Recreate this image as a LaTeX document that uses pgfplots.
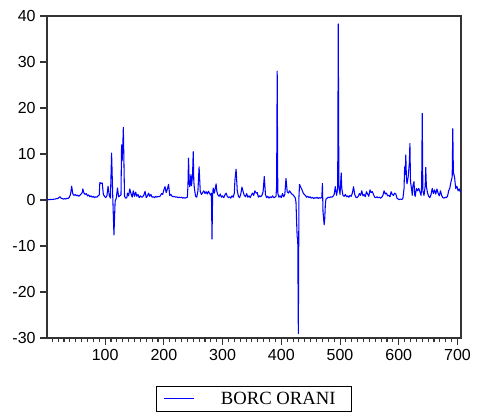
\documentclass[border=0pt]{standalone}
\usepackage{fontspec}
\setmainfont{Liberation Sans}
\newfontfamily\timesf{Liberation Serif}
\usepackage{pgfplots}
\pgfplotsset{compat=1.18}

\begin{document}
\begin{tikzpicture}
\begin{axis}[
  name=ax,
  scale only axis,
  width=310.5pt,
  height=241.5pt,
  xmin=1, xmax=706,
  ymin=-30, ymax=40,
  xtick={100,200,...,700},
  minor xtick={10,20,...,700},
  ytick={-30,-20,...,40},
  tick pos=left,
  tick align=outside,
  major tick length=5pt,
  minor tick length=2.8pt,
  every tick/.style={black!80, line width=0.8pt},
  axis line style={black!80, line width=1pt},
  tick label style={font=\fontsize{12}{14}\selectfont},
  /pgf/number format/assume math mode=true,
  legend style={at={(0.5,-0.189)}, anchor=center, draw=black, line width=0.6pt,
                font=\timesf\fontsize{14}{16}\selectfont, inner xsep=5pt, inner ysep=2pt},
  legend image code/.code={\draw[#1, line width=0.6pt] (0cm,0cm) -- (0.8cm,0cm);},
]
\addplot[blue, line width=0.8pt, line join=round] coordinates {
(1,0.0)(3,0.05)(5,0.1)(7,0.1)(9,0.15)(11,0.1)(13,0.2)(15,0.2)(17,0.3)(19,0.3)(21,0.5)(23,0.7)(25,0.4)(27,0.3)(29,0.2)(31,0.3)(33,0.2)(35,0.4)(37,0.3)(39,0.6)(41,1.2)(43,3.0)(45,1.3)(47,1.0)(49,1.2)(51,0.9)(53,1.1)(55,0.8)(57,1.0)(59,1.3)(61,1.6)(62,2.4)(64,1.5)(66,1.2)(68,1.4)(70,0.9)(72,1.1)(74,0.7)(76,0.9)(78,0.6)(80,0.8)(82,0.5)(84,0.7)(86,0.6)(88,0.9)(90,1.1)(91,3.8)(93,3.6)(95,3.7)(97,1.2)(99,0.8)(101,0.5)(103,0.9)(105,3.0)(107,1.0)(109,0.4)(111,10.2)(113,0.6)(115,-7.6)(117,-0.3)(119,0.4)(121,2.6)(123,0.7)(125,0.9)(127,1.1)(128,12.0)(129,8.5)(130,11.5)(131,15.8)
(133,0.8)(135,0.4)(137,0.5)(138,1.5)(140,0.9)(142,2.4)(144,1.4)(146,0.6)(148,2.0)(150,0.8)(152,1.7)(154,0.8)(156,1.2)(158,0.5)(160,0.9)(162,0.6)(164,0.7)(166,1.1)(168,1.9)(170,0.5)(172,0.9)(174,1.5)(176,0.8)(178,1.2)(180,0.6)(182,0.7)(184,0.5)(186,0.8)(188,0.6)(190,0.8)(192,0.7)(194,0.9)(196,1.4)(198,1.2)(200,2.2)(202,2.9)(204,1.6)(206,2.4)(208,3.4)(210,1.0)(212,1.2)(214,0.8)(216,0.7)(218,0.8)(220,0.6)(222,0.7)(224,0.5)(226,0.6)(228,0.5)(230,0.6)(232,0.4)(234,0.5)(236,0.4)(238,0.5)(240,0.6)
(241,3.0)(242,9.1)(243,4.5)(244,2.9)(245,3.6)(246,5.5)(247,3.1)(248,4.2)(249,6.0)(250,10.5)(251,4.0)(252,2.5)(254,0.8)(256,0.6)(258,2.0)(260,7.2)(262,1.8)(264,1.2)(266,1.6)(268,2.0)(270,1.4)(272,1.8)(274,1.3)(276,1.9)(278,1.4)(280,1.0)(281,1.5)(282,-8.5)(283,1.0)(284,2.6)(286,1.5)(288,2.8)(289,3.5)(290,2.0)(292,1.1)(294,0.8)(296,1.3)(298,0.6)(300,0.9)(302,0.5)(304,1.1)(306,1.5)(308,0.8)(310,0.5)(312,0.7)(314,0.4)(316,0.9)(318,0.6)(320,1.5)(321,4.3)(323,6.7)(325,2.0)(327,0.8)(329,0.5)(331,1.3)(333,2.8)(335,1.8)(337,1.0)(339,0.7)(341,1.4)(343,0.6)(345,0.9)(347,0.5)(349,1.1)(351,1.5)(353,1.0)(355,2.0)(357,1.5)
(359,1.6)(361,0.6)(363,0.9)(365,0.7)(367,1.0)(369,1.8)(371,5.1)(373,1.2)(375,0.5)(377,0.8)(379,0.4)(381,0.7)(383,0.5)(385,0.9)(387,0.5)(389,0.6)(391,0.8)(392,3.0)(393,28.0)(394,1.5)(396,0.6)(398,0.9)(400,0.5)(402,1.4)(404,0.7)(406,1.2)(408,4.7)(410,1.8)(412,1.5)(414,2.0)(416,1.6)(418,1.3)(420,1.1)(422,0.8)(424,0.4)(425,-0.5)(426,-4.5)(427,-8.0)(428,-8.5)(429,-29.0)(430,0.5)(431,3.4)(433,2.8)(435,2.3)(437,1.6)(439,1.2)(441,1.0)(443,0.6)(445,0.8)(447,0.5)(449,0.7)(451,0.4)(453,0.6)(455,0.3)(457,0.5)(459,0.4)(461,0.6)(463,0.3)(465,0.5)(467,0.4)(469,0.6)(470,3.6)(471,-2.5)(472,-4.0)(473,-5.4)(474,-4.0)(475,-1.0)(476,0.2)
(478,0.4)(480,0.6)(482,0.5)(484,0.7)(486,0.6)(488,0.8)(490,1.2)(492,2.9)(494,1.0)(496,2.5)(497,38.3)(498,3.0)(500,1.2)(502,5.9)(503,2.5)(505,1.0)(507,0.8)(509,1.2)(511,0.7)(513,0.9)(515,0.6)(517,1.0)(519,0.8)(521,1.5)(523,2.9)(525,1.2)(527,0.6)(529,0.5)(531,0.8)(533,1.4)(535,1.0)(537,2.0)(539,0.9)(541,1.2)(543,0.7)(545,1.8)(547,1.3)(549,0.8)(551,2.2)(553,1.6)(555,1.8)(557,1.2)(559,0.6)(561,0.5)(563,0.7)(565,0.5)(567,0.6)(569,0.4)(571,0.6)(573,1.0)(575,2.0)(577,1.3)(579,1.5)(581,0.9)(583,1.0)(585,0.7)(587,1.8)(589,1.2)(591,1.0)(593,1.5)(595,1.3)(597,0.4)(599,0.2)(601,0.1)(603,0.2)(605,0.1)(607,0.3)
(609,2.5)(610,7.2)(611,5.5)(612,9.8)(613,5.0)(614,3.5)(616,5.0)(618,8.0)(619,12.3)(620,4.0)(622,2.2)(623,1.0)(624,3.0)(626,4.0)(627,1.2)(628,0.8)(630,2.5)(632,2.0)(634,2.5)(636,1.8)(638,1.0)(639,3.0)(640,18.8)(641,2.0)(643,1.0)(645,3.0)(646,7.1)(647,3.0)(649,1.5)(651,0.8)(653,0.5)(655,1.2)(657,2.5)(659,1.4)(661,2.2)(663,1.3)(665,2.4)(667,1.5)(669,0.9)(671,2.0)(673,1.0)(675,0.5)(677,0.4)(679,0.6)(681,0.5)(683,0.8)(685,2.0)(687,2.6)(689,4.0)(691,5.0)(692,15.5)(693,6.0)(695,5.0)(697,2.5)(699,3.0)(701,2.0)(703,2.4)(705,1.7)
};
\addlegendentry{\hspace*{18pt}BORC ORANI\hspace*{5pt}}
\end{axis}
\path ([xshift=-35.25pt,yshift=-59.25pt]ax.south west) rectangle ([xshift=15.75pt,yshift=12pt]ax.north east);
\end{tikzpicture}
\end{document}
